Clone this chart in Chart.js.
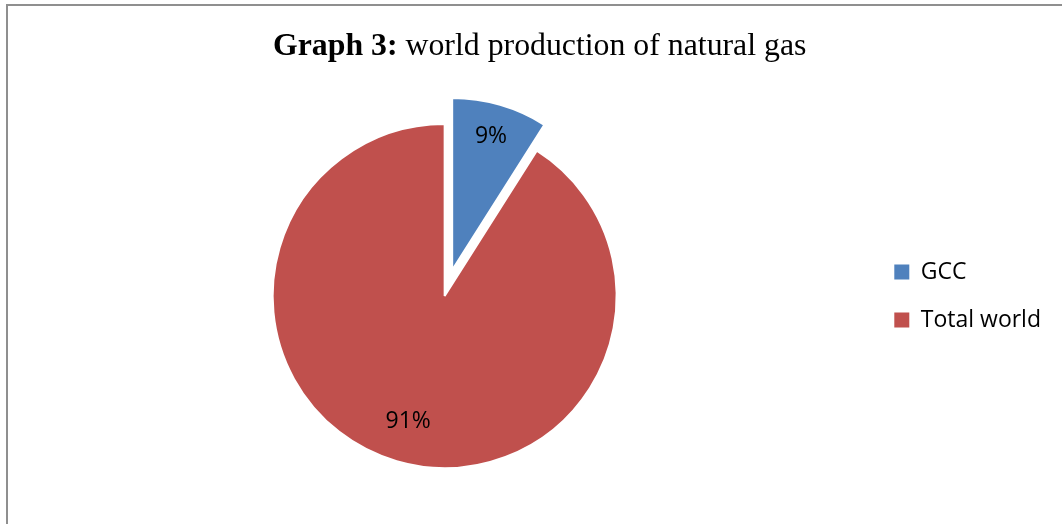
<!DOCTYPE html>
<html>
<head>
<meta charset="utf-8">
<script src="https://cdn.jsdelivr.net/npm/chart.js@4"></script>
<style>
  html, body { margin: 0; padding: 0; background: #fff; }
  #wrap { position: relative; width: 1062px; height: 524px; overflow: hidden; }
  #frame { position: absolute; left: 6px; top: 4px; width: 1100px; height: 600px; border: 2px solid #8f8f8f; box-sizing: border-box; }
  #title { position: absolute; left: 273px; top: 29px; font-family: "Liberation Serif", "Times New Roman", serif; font-size: 31.8px; line-height: 32px; white-space: nowrap; color: #000; }
  #box { position: absolute; left: 0; top: 0; width: 1062px; height: 524px; }
</style>
</head>
<body>
<div id="wrap">
  <div id="frame"></div>
  <div id="box"><canvas id="c"></canvas></div>
  <div id="title"><b>Graph 3:</b> world production of natural gas</div>
</div>
<script>
const categories = ["GCC", "Total world"];
const shares = [9, 91];
const sliceColors = ["#4F81BD", "#C0504D"];
const explode = [27, 0];
const labelRadius = [0.81, 0.76];

const explodePlugin = {
  id: 'explode',
  afterDatasetsUpdate(chart) {
    const meta = chart.getDatasetMeta(0);
    meta.data.forEach((arc, i) => {
      const d = explode[i] || 0;
      if (!d) return;
      const mid = (arc.startAngle + arc.endAngle) / 2;
      arc.x += Math.cos(mid) * d;
      arc.y += Math.sin(mid) * d;
    });
  }
};

const labelPlugin = {
  id: 'sliceLabels',
  afterDatasetsDraw(chart) {
    const ctx = chart.ctx;
    const meta = chart.getDatasetMeta(0);
    const data = chart.data.datasets[0].data;
    const total = data.reduce((a, b) => a + b, 0);
    ctx.save();
    ctx.font = '23px "Open Sans"';
    ctx.fillStyle = '#000';
    ctx.textAlign = 'center';
    ctx.textBaseline = 'middle';
    meta.data.forEach((arc, i) => {
      const mid = (arc.startAngle + arc.endAngle) / 2;
      const r = arc.outerRadius * labelRadius[i];
      const x = arc.x + Math.cos(mid) * r;
      const y = arc.y + Math.sin(mid) * r;
      ctx.fillText(Math.round(data[i] / total * 100) + '%', x, y);
    });
    ctx.restore();
  }
};

new Chart(document.getElementById('c'), {
  type: 'pie',
  data: {
    labels: categories,
    datasets: [{
      data: shares,
      backgroundColor: sliceColors,
      borderColor: '#ffffff',
      borderWidth: 2
    }]
  },
  options: {
    responsive: true,
    maintainAspectRatio: false,
    animation: false,
    radius: 172,
    layout: { padding: { left: 20, right: 11, top: 78, bottom: 10 } },
    plugins: {
      tooltip: { enabled: false },
      title: { display: false },
      legend: {
        position: 'right',
        labels: {
          boxWidth: 15,
          boxHeight: 15,
          padding: 25,
          color: '#000',
          font: { family: 'Open Sans', size: 23 },
          generateLabels(chart) {
            const base = Chart.overrides.pie.plugins.legend.labels.generateLabels(chart);
            return base.map(l => Object.assign(l, { strokeStyle: l.fillStyle, lineWidth: 0 }));
          }
        }
      }
    }
  },
  plugins: [explodePlugin, labelPlugin]
});
</script>
</body>
</html>
